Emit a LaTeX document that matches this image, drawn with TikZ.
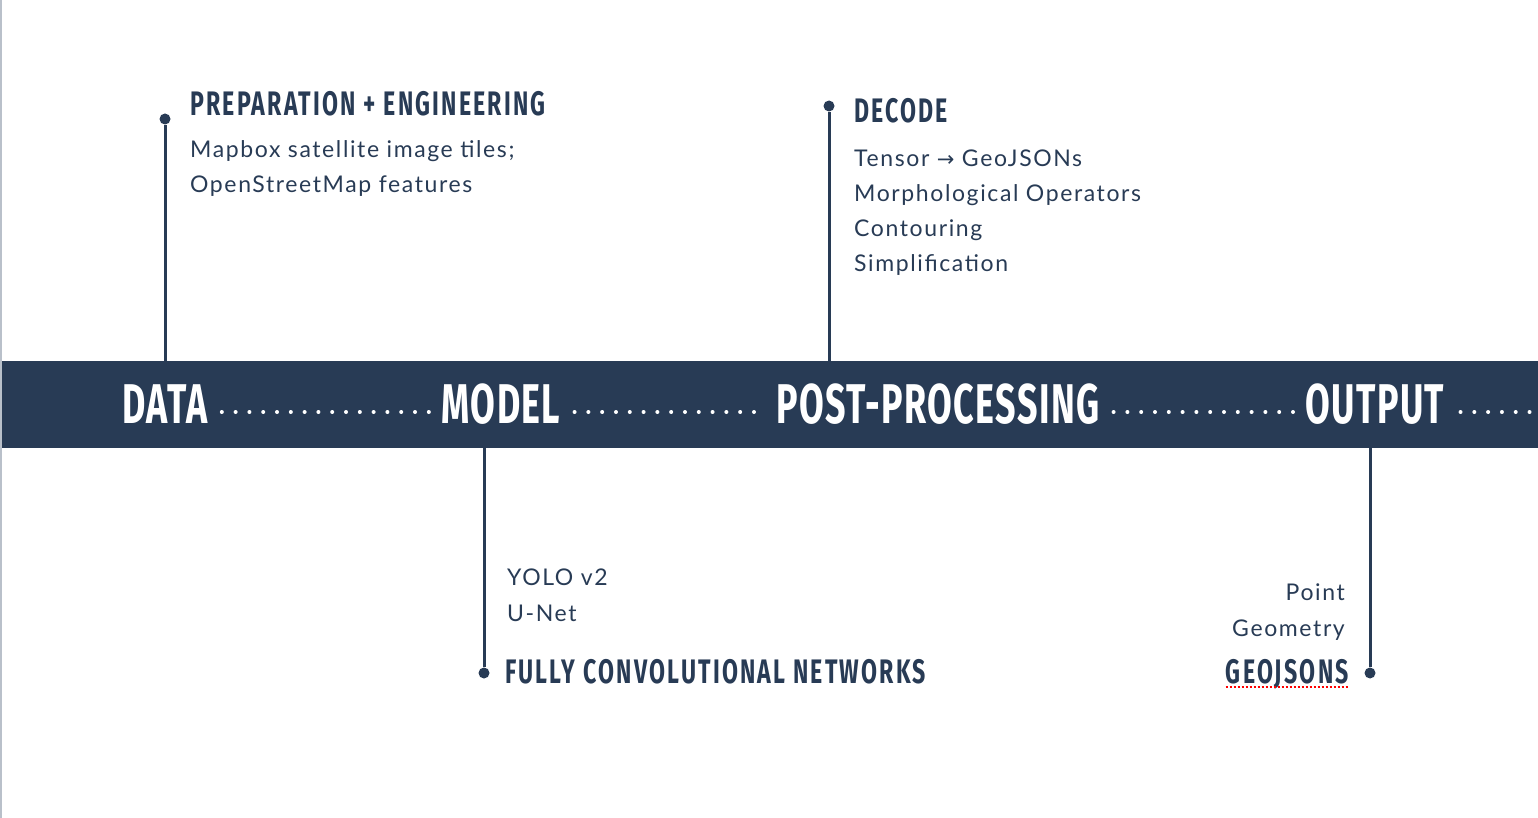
\documentclass[tikz,border=0pt]{standalone}
\usepackage{fontspec}
\setmainfont{Lato}[LetterSpace=7]
\newfontfamily\headfont[FakeStretch=0.64,LetterSpace=2.5]{Fira Sans}
\newfontfamily\subheadfont[FakeStretch=0.68,LetterSpace=6.5]{Fira Sans}
\newfontfamily\arrowfont{DejaVu Sans}
\usetikzlibrary{positioning}
\definecolor{navy}{HTML}{283B55}
\definecolor{edgegray}{HTML}{B9C0CA}

\begin{document}
\begin{tikzpicture}[x=1pt,y=-1pt,
  stage/.style={text=white,font=\headfont\bfseries\fontsize{56}{56}\selectfont,inner sep=0pt,anchor=base},
  heading/.style={text=navy,font=\subheadfont\bfseries\fontsize{34}{34}\selectfont,inner sep=0pt,anchor=base west},
  items/.style={text=navy,font=\fontsize{23}{35.3}\selectfont,inner sep=0pt,align=left,anchor=base west},
  stem/.style={navy,line width=3pt},
  pin/.style={circle,fill=navy,inner sep=0pt,minimum size=11pt},
  dotrow/.style={white,line width=4pt,line cap=round,dash pattern=on 0pt off 13.8pt}]

\useasboundingbox (0,0) rectangle (1538,818);
\fill[edgegray] (0,0) rectangle (2,818);

% the band with the four stages
\node (band) [fill=navy,minimum width=1536pt,minimum height=87pt,inner sep=0pt,anchor=north west] at (2,361) {};
\node (data) [stage] at (165,423) {DATA};
\node (model) [stage] at (501,423) {MODEL};
\node (post) [stage] at (938,423) {POST-PROCESSING};
\node (output) [stage] at (1375,423) {OUTPUT};
\coordinate (tail) at (1532,412);

\draw[dotrow] ([xshift=14pt,yshift=11pt]data.base east) -- ([xshift=-12pt,yshift=11pt]model.base west);
\draw[dotrow] ([xshift=14pt,yshift=11pt]model.base east) -- ([xshift=-12pt,yshift=11pt]post.base west);
\draw[dotrow] ([xshift=14pt,yshift=11pt]post.base east) -- ([xshift=-12pt,yshift=11pt]output.base west);
\draw[dotrow] ([xshift=16pt,yshift=11pt]output.base east) -- (tail);

% pins above the band
\node (preppin) [pin] at (165,119) {};
\node (decodepin) [pin] at (829,106) {};
\draw[stem] (preppin) -- (preppin |- band.north);
\draw[stem] (decodepin) -- (decodepin |- band.north);

% pins below the band
\node (fcnpin) [pin] at (484,673) {};
\node (geopin) [pin] at (1370,673) {};
\draw[stem] (fcnpin) -- (fcnpin |- band.south);
\draw[stem] (geopin) -- (geopin |- band.south);

% texts (multi-line nodes sit on the baseline of their last line)
\node (prep) [heading] at (190,116) {PREPARATION + ENGINEERING};
\node (prepitems) [items] at (190,193) {Mapbox satellite image tiles;\\OpenStreetMap features};

\node (decode) [heading] at (854,123) {DECODE};
\node (decodeitems) [items] at (854,272) {Tensor {\arrowfont\fontsize{21}{21}\selectfont →} GeoJSONs\\Morphological Operators\\Contouring\\Simplification};

\node (fcnitems) [items] at (507,621) {YOLO v2\\U-Net};
\node (fcn) [heading] at (505,683) {FULLY CONVOLUTIONAL NETWORKS};

\node (geoitems) [items,align=right,anchor=base east] at (1345,636) {Point\\Geometry};
\node (geojsons) [heading,anchor=base east] at (1349,683) {GEOJSONS};
\draw[red,line width=1.5pt,dash pattern=on 2pt off 2pt] ([yshift=-4pt]geojsons.base west) -- ([yshift=-4pt]geojsons.base east);
\end{tikzpicture}
\end{document}
